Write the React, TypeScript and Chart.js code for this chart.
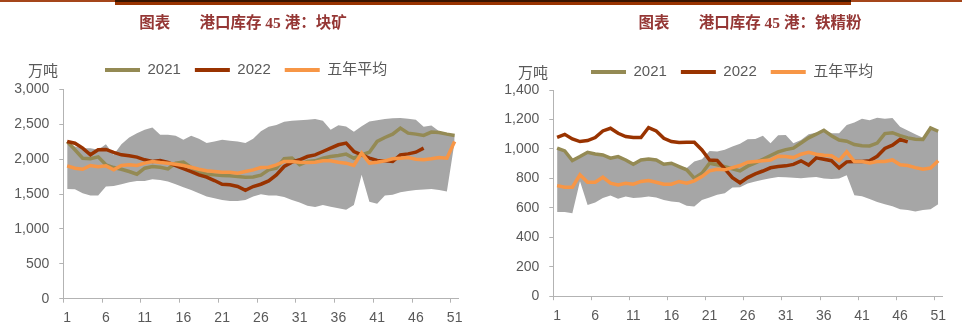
import React, { useEffect, useRef } from "react";
import { Chart, registerables } from "chart.js";

Chart.register(...registerables);

// ---------- data ----------
const weeks = Array.from({ length: 51 }, (_, i) => String(i + 1));
const seriesNames = ["2021", "2022", "五年平均"];

// 港口库存45港：块矿
const lump2021 = [2250, 2133, 2013, 2004, 2032, 1918, 1879, 1855, 1822, 1784, 1870, 1894, 1884, 1860, 1942, 1956, 1879, 1822, 1784, 1774, 1765, 1760, 1750, 1741, 1745, 1770, 1846, 1870, 2005, 2015, 1918, 1966, 1975, 2013, 2037, 2052, 2071, 2013, 2061, 2099, 2253, 2310, 2358, 2444, 2372, 2358, 2339, 2387, 2382, 2358, 2339];
const lump2022 = [2253, 2228, 2157, 2061, 2133, 2138, 2095, 2061, 2047, 2028, 1990, 1966, 1980, 1951, 1908, 1865, 1822, 1774, 1741, 1693, 1640, 1631, 1607, 1554, 1607, 1640, 1688, 1774, 1894, 1956, 1990, 2037, 2061, 2109, 2157, 2205, 2229, 2109, 2061, 2013, 1980, 1975, 1966, 2061, 2075, 2099, 2157, null, null, null, null];
const lumpAvg = [1903, 1870, 1855, 1908, 1889, 1903, 1846, 1908, 1918, 1908, 1942, 1966, 1951, 1942, 1927, 1908, 1884, 1855, 1832, 1822, 1813, 1813, 1798, 1822, 1846, 1879, 1884, 1918, 1966, 1966, 1956, 1951, 1956, 1975, 1975, 1956, 1942, 1908, 2085, 1942, 1956, 1975, 2004, 2013, 2023, 1999, 1990, 2004, 2023, 2013, 2253];
const lumpMax = [2260, 2180, 2157, 2157, 2133, 2214, 2061, 2214, 2310, 2372, 2420, 2454, 2348, 2348, 2334, 2276, 2334, 2291, 2229, 2253, 2276, 2262, 2253, 2229, 2291, 2400, 2463, 2490, 2534, 2549, 2555, 2563, 2573, 2549, 2420, 2484, 2468, 2391, 2470, 2540, 2558, 2573, 2586, 2588, 2578, 2564, 2463, 2480, 2400, 2365, 2340];
const lumpMin = [1572, 1568, 1510, 1477, 1477, 1606, 1616, 1640, 1669, 1688, 1688, 1712, 1702, 1678, 1640, 1597, 1559, 1510, 1463, 1439, 1415, 1400, 1400, 1415, 1463, 1497, 1480, 1477, 1458, 1415, 1377, 1330, 1315, 1343, 1319, 1295, 1275, 1343, 1774, 1390, 1360, 1477, 1490, 1525, 1544, 1559, 1565, 1573, 1559, 1535, 2250];

// 港口库存45港：铁精粉
const fine2021 = [1005, 986, 921, 948, 977, 966, 959, 937, 948, 925, 896, 925, 932, 925, 896, 903, 880, 858, 801, 835, 903, 892, 880, 865, 851, 883, 905, 930, 955, 980, 995, 1005, 1040, 1075, 1100, 1127, 1090, 1060, 1052, 1030, 1022, 1020, 1040, 1104, 1110, 1090, 1075, 1066, 1064, 1142, 1120];
const fine2022 = [1079, 1099, 1068, 1050, 1057, 1077, 1122, 1140, 1106, 1084, 1077, 1077, 1145, 1122, 1072, 1050, 1043, 1045, 1045, 993, 925, 921, 865, 805, 770, 805, 830, 850, 872, 880, 885, 895, 919, 890, 939, 930, 920, 871, 912, 915, 915, 920, 950, 1003, 1025, 1064, 1048, null, null, null, null];
const fineAvg = [751, 740, 740, 824, 774, 774, 808, 767, 756, 767, 760, 779, 785, 774, 760, 760, 779, 767, 783, 812, 851, 862, 858, 873, 887, 910, 914, 919, 925, 950, 948, 941, 964, 977, 964, 957, 953, 921, 980, 914, 915, 905, 915, 914, 925, 892, 887, 873, 862, 870, 919];
const fineMax = [1005, 990, 925, 950, 980, 970, 962, 940, 950, 928, 900, 928, 935, 928, 900, 905, 882, 870, 915, 930, 985, 982, 995, 1016, 1035, 1065, 1068, 1090, 1038, 1093, 1095, 1038, 1061, 1099, 1110, 1127, 1106, 1106, 1163, 1180, 1205, 1195, 1212, 1205, 1210, 1151, 1125, 1099, 1075, 1142, 1120];
const fineMin = [571, 571, 564, 780, 620, 636, 666, 684, 661, 677, 666, 670, 677, 670, 654, 643, 638, 614, 609, 654, 670, 688, 699, 738, 740, 765, 779, 790, 801, 810, 808, 805, 801, 806, 810, 799, 795, 799, 822, 686, 678, 660, 640, 625, 610, 590, 585, 575, 585, 590, 625];

const lineColors = ["#948A54", "#993300", "#F79646"];
const bandColor = "#A6A6A6";
const axisColor = "#B3B3B3";
const textColor = "#595959";

// Adjusts the legend: extra space below it, and its starting x position.
const legendTweak = {
  id: "legendTweak",
  beforeLayout(chart: any, _a: any, opts: any) {
    const lg = chart.legend;
    if (lg && !lg.__patched) {
      const f = lg.fit;
      lg.fit = function () {
        f.call(this);
        this.height += opts.extra || 0;
      };
      lg.__patched = true;
    }
  },
  afterLayout(chart: any, _a: any, opts: any) {
    const lg = chart.legend;
    if (lg && opts.startX != null) {
      lg.left = opts.startX - 14;
    }
  },
};

type PanelProps = {
  left: number;
  y2021: (number | null)[];
  y2022: (number | null)[];
  yAvg: (number | null)[];
  yMax: number[];
  yMin: number[];
  maxY: number;
  step: number;
  padTop: number;
  padRight: number;
  padBottom: number;
  axisW: number;
  legendExtra: number;
  legendStart: number;
  xPad: number;
};

function Panel(p: PanelProps) {
  const ref = useRef<HTMLCanvasElement | null>(null);
  useEffect(() => {
    if (!ref.current) return;
    const tickFont = { family: "'Liberation Sans', Arial, sans-serif", size: 14 };
    const chart = new Chart(ref.current, {
      type: "line",
      data: {
        labels: weeks,
        datasets: [
          { label: seriesNames[0], data: p.y2021, borderColor: lineColors[0], backgroundColor: lineColors[0], borderWidth: 3.5, pointRadius: 0, fill: false, tension: 0, order: 3 },
          { label: seriesNames[1], data: p.y2022, borderColor: lineColors[1], backgroundColor: lineColors[1], borderWidth: 3.5, pointRadius: 0, fill: false, tension: 0, order: 2 },
          { label: seriesNames[2], data: p.yAvg, borderColor: lineColors[2], backgroundColor: lineColors[2], borderWidth: 3.5, pointRadius: 0, fill: false, tension: 0, order: 1 },
          { label: "max", data: p.yMax, borderWidth: 0, borderColor: "rgba(0,0,0,0)", backgroundColor: bandColor, pointRadius: 0, fill: "+1", tension: 0, order: 5 },
          { label: "min", data: p.yMin, borderWidth: 0, borderColor: "rgba(0,0,0,0)", backgroundColor: "rgba(0,0,0,0)", pointRadius: 0, fill: false, tension: 0, order: 6 },
        ],
      },
      options: {
        responsive: false,
        animation: false,
        events: [],
        layout: { padding: { top: p.padTop, left: 0, right: p.padRight, bottom: p.padBottom } },
        plugins: {
          tooltip: { enabled: false },
          legend: {
            position: "top",
            align: "start",
            labels: {
              boxWidth: 35,
              boxHeight: 4,
              padding: 14,
              color: textColor,
              font: { family: "'Liberation Sans', 'Noto Sans CJK SC', sans-serif", size: 15 },
              generateLabels: (c: any) =>
                (Chart.defaults.plugins.legend.labels.generateLabels as any)(c)
                  .filter((l: any) => l.datasetIndex < 3)
                  .sort((a: any, b: any) => a.datasetIndex - b.datasetIndex)
                  .map((l: any) => ({ ...l, lineWidth: 0, fillStyle: lineColors[l.datasetIndex], strokeStyle: lineColors[l.datasetIndex], fontColor: textColor })),
            },
          },
          legendTweak: { extra: p.legendExtra, startX: p.legendStart },
        } as any,
        scales: {
          x: {
            offset: true,
            grid: {
              offset: true,
              drawOnChartArea: false,
              drawTicks: true,
              tickLength: 4,
              color: (ctx: any) => (ctx.index % 5 === 0 ? axisColor : "rgba(0,0,0,0)"),
            },
            border: { color: axisColor, width: 1 },
            ticks: {
              autoSkip: false,
              maxRotation: 0,
              padding: p.xPad,
              color: textColor,
              font: tickFont,
              callback: (_v: any, i: number) => (i % 5 === 0 ? weeks[i] : ""),
            },
            afterFit: (s: any) => {
              s.height = 4 + p.xPad + 16.8;
            },
          },
          y: {
            min: 0,
            max: p.maxY,
            grid: { drawOnChartArea: false, drawTicks: true, tickLength: 4, color: axisColor },
            border: { color: axisColor, width: 1 },
            ticks: {
              stepSize: p.step,
              padding: 10,
              color: textColor,
              font: tickFont,
              callback: (v: any) => Number(v).toLocaleString("en-US"),
            },
            afterFit: (s: any) => {
              s.width = p.axisW;
            },
          },
        },
      },
      plugins: [legendTweak as any],
    });
    return () => chart.destroy();
  }, []);
  return (
    <canvas
      ref={ref}
      width={481}
      height={329}
      style={{ position: "absolute", left: p.left, top: 0, width: 481, height: 329, display: "block" }}
    />
  );
}

const titleStyle: React.CSSProperties = {
  position: "absolute",
  top: 23,
  transform: "translate(-50%, -50%)",
  whiteSpace: "nowrap",
  fontFamily: "'Liberation Serif', 'Noto Sans CJK SC', serif",
  fontWeight: 700,
  fontSize: 15.5,
  color: "#953735",
  lineHeight: 1,
};

const unitStyle: React.CSSProperties = {
  position: "absolute",
  transform: "translate(-50%, -50%)",
  whiteSpace: "nowrap",
  fontFamily: "'Noto Sans CJK SC', sans-serif",
  fontSize: 15,
  color: textColor,
  lineHeight: 1,
};

export default function App() {
  return (
    <div style={{ position: "fixed", left: 0, top: 0, width: 962, height: 329, background: "#fff", overflow: "hidden" }}>
      <div style={{ position: "absolute", left: 0, top: 0, width: 962, height: 2, background: "#A5461A" }} />
      <div style={{ position: "absolute", left: 115, top: 0, width: 736, height: 1.5, background: "#3A1500" }} />
      <div style={{ position: "absolute", left: 115, top: 1.5, width: 736, height: 3, background: "#993300" }} />
      <Panel
        left={0}
        y2021={lump2021}
        y2022={lump2022}
        yAvg={lumpAvg}
        yMax={lumpMax}
        yMin={lumpMin}
        maxY={3000}
        step={500}
        padTop={48.5}
        padRight={22.5}
        padBottom={2.5}
        axisW={63.3}
        legendExtra={1.8}
        legendStart={105}
        xPad={7}
      />
      <Panel
        left={481}
        y2021={fine2021}
        y2022={fine2022}
        yAvg={fineAvg}
        yMax={fineMax}
        yMin={fineMin}
        maxY={1400}
        step={200}
        padTop={50.5}
        padRight={20}
        padBottom={4}
        axisW={72.3}
        legendExtra={0.5}
        legendStart={110}
        xPad={8}
      />
      <div style={{ ...titleStyle, left: 243 }}>
        图表<span style={{ marginLeft: 29 }}>港口库存 45 港：块矿</span>
      </div>
      <div style={{ ...titleStyle, left: 750 }}>
        图表<span style={{ marginLeft: 29 }}>港口库存 45 港：铁精粉</span>
      </div>
      <div style={{ ...unitStyle, left: 43, top: 69 }}>万吨</div>
      <div style={{ ...unitStyle, left: 533, top: 71 }}>万吨</div>
    </div>
  );
}
